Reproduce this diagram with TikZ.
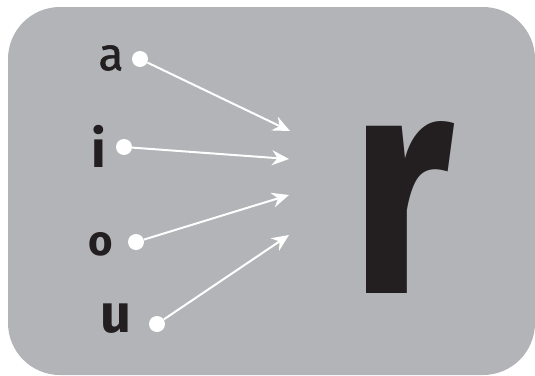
\documentclass[tikz,border=0pt]{standalone}
\usepackage{graphicx}
\usepackage{fontspec}
\setmainfont{Fira Sans}
\newfontfamily\semibold[FakeBold=1.2]{Fira Sans}
\usetikzlibrary{arrows.meta}
\definecolor{panel}{HTML}{B3B4B7}
\definecolor{ink}{HTML}{231F20}
\begin{document}
\begin{tikzpicture}[x=1pt,y=-1pt,
  dot/.style={circle,fill=white,inner sep=0pt,minimum size=16pt},
  vowel/.style={text=ink,inner sep=0pt},
  link/.style={white,line width=2pt,-{Stealth[length=17pt,width=15pt]}}]
\useasboundingbox (0,0) rectangle (535,375);
\fill[panel,rounded corners=52pt] (8,7) rectangle (535,375);
% vowels
\node[vowel,font=\fontsize{46}{46}\semibold] (la) at (111,58) {a};
\node[vowel,font=\fontsize{52}{52}\selectfont\bfseries] (li) at (99,146) {i};
\node[vowel,font=\fontsize{42}{42}\selectfont\bfseries] (lo) at (101,244) {o};
\node[vowel,font=\fontsize{54}{54}\selectfont\bfseries] (lu) at (116,319) {u};
% dots
\node[dot] (da) at (140,59) {};
\node[dot] (di) at (124,147) {};
\node[dot] (do) at (136,242) {};
\node[dot] (du) at (157,324) {};
% targets
\coordinate (ta) at (290,131);
\coordinate (ti) at (289,159);
\coordinate (to) at (289,195);
\coordinate (tu) at (289,235);
\draw[link] (da) -- (ta);
\draw[link] (di) -- (ti);
\draw[link] (do) -- (to);
\draw[link] (du) -- (tu);
% big r
\node[text=ink,inner sep=0pt,font=\fontsize{315}{315}\selectfont\bfseries] (r) at (402,207) {\scalebox{0.82}[1]{r}};
\end{tikzpicture}
\end{document}
